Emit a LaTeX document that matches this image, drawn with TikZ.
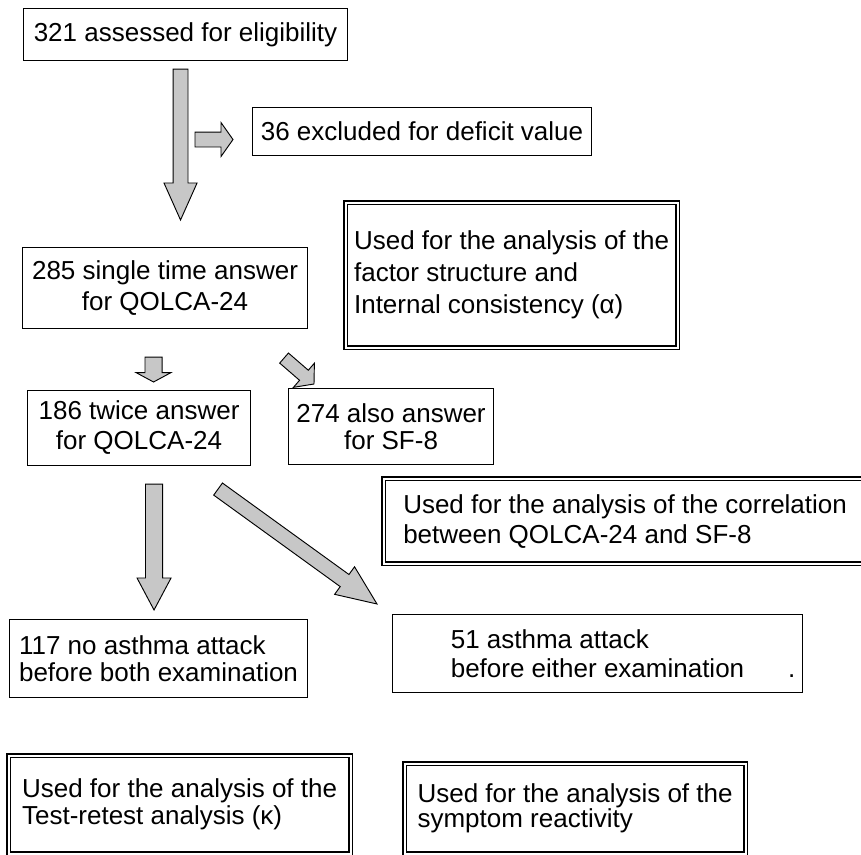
\documentclass[tikz,border=0pt]{standalone}
\usepackage{fontspec}
\setmainfont{Liberation Sans}
\usepackage{tikz}
\usetikzlibrary{calc}

% block arrow: tail, tip, half shaft, half head, head length
\newcommand{\blockarrow}[5]{%
\coordinate (#2-base) at ($(#2)!#5!(#1)$);
\draw [blockarr] ($(#1)!#3!90:(#2)$) -- ($(#2-base)!#3!90:(#2)$) -- ($(#2-base)!#4!90:(#2)$) -- (#2) -- ($(#2-base)!#4!-90:(#2)$) -- ($(#2-base)!#3!-90:(#2)$) -- ($(#1)!#3!-90:(#2)$) -- cycle ;
}

\begin{document}
\begin{tikzpicture}[x=0.75pt,y=-0.75pt,
  txt/.style={font=\fontsize{19.5}{#1}\selectfont}, txt/.default=22.5,
  flowbox/.style={draw, line width=0.8pt, anchor=north west, inner sep=0pt, txt},
  usedbox/.style={flowbox, double, line width=0.9pt, double distance=1.6pt},
  blockarr/.style={draw, line width=0.7pt, fill=black!22, line join=miter}]
\useasboundingbox (0,0) rectangle (861,855);

%Shape: Rectangle
\node [flowbox, minimum width=243pt, minimum height=39pt] (assess) at (23,8) {321 assessed for eligibility};
%Shape: Rectangle
\node [flowbox, minimum width=254.25pt, minimum height=36pt] (excl) at (252,107) {36 excluded for deficit value};
%Shape: Double Rectangle
\node [usedbox, txt=24, minimum width=249pt, minimum height=108.75pt, align=left] (factor) at (345,202) {Used for the analysis of the\\factor structure and\\Internal consistency (α)};
%Shape: Rectangle
\node [flowbox, txt=23, minimum width=213.75pt, minimum height=60.75pt, align=center] (single) at (22,247) {285 single time answer\\for QOLCA-24};
%Shape: Rectangle
\node [flowbox, minimum width=167.25pt, minimum height=56.25pt, align=center] (twice) at (27,390) {186 twice answer\\for QOLCA-24};
%Shape: Rectangle
\node [flowbox, txt=20, minimum width=153.75pt, minimum height=57pt, align=center] (sfeight) at (288,388) {274 also answer\\for SF-8};
%Shape: Double Rectangle
\node [usedbox, minimum width=362.25pt, minimum height=63.75pt, align=left] (corr) at (383,478) {Used for the analysis of the correlation\\between QOLCA-24 and SF-8};
%Shape: Rectangle
\node [flowbox, txt=20, minimum width=223.5pt, minimum height=58.5pt, align=left] (noatt) at (9,619) {117 no asthma attack\\before both examination};
%Shape: Rectangle
\node [flowbox, txt=22, minimum width=307.5pt, minimum height=58.5pt, align=left] (att) at (392,614) {51 asthma attack\\before either examination\rlap{\hspace{33pt}.}};
%Shape: Double Rectangle
\node [usedbox, txt=20, minimum width=256.5pt, minimum height=73.5pt, align=left] (retest) at (8,755) {Used for the analysis of the\\Test-retest analysis (κ)};
%Shape: Double Rectangle
\node [usedbox, txt=19, minimum width=255.75pt, minimum height=67.5pt, align=left] (react) at (404,763) {Used for the analysis of the\\symptom reactivity};

%Down Arrow
\coordinate (a1t) at ($(assess.south)+(-5,8)$);
\coordinate (a1h) at ($(single.north)+(15.5,-27)$);
\blockarrow{a1t}{a1h}{5.6pt}{12.4pt}{27.75pt}
%Right Arrow
\coordinate (a2t) at ($(excl.west)+(-57,8)$);
\coordinate (a2h) at ($(excl.west)+(-19,8)$);
\blockarrow{a2t}{a2h}{5.6pt}{12.75pt}{9pt}
%Down Arrow
\coordinate (a3t) at ($(single.south)+(-11.5,28)$);
\coordinate (a3h) at ($(twice.north)+(14.5,-8)$);
\blockarrow{a3t}{a3h}{6.4pt}{13pt}{7pt}
%Slant Arrow
\coordinate (a4t) at ($(single.south east)+(-24,29)$);
\coordinate (a4h) at ($(sfeight.north west)+(26,-4)$);
\blockarrow{a4t}{a4h}{5pt}{12pt}{10pt}
%Down Arrow
\coordinate (a5t) at ($(twice.south)+(15,18)$);
\coordinate (a5h) at ($(noatt.north)+(-4.5,-9)$);
\blockarrow{a5t}{a5h}{6.4pt}{12.75pt}{24pt}
%Slant Arrow
\coordinate (a6t) at ($(twice.south east)+(-33,23)$);
\coordinate (a6h) at ($(att.north west)+(-15,-10)$);
\blockarrow{a6t}{a6h}{5.6pt}{12.75pt}{30pt}

\end{tikzpicture}
\end{document}
